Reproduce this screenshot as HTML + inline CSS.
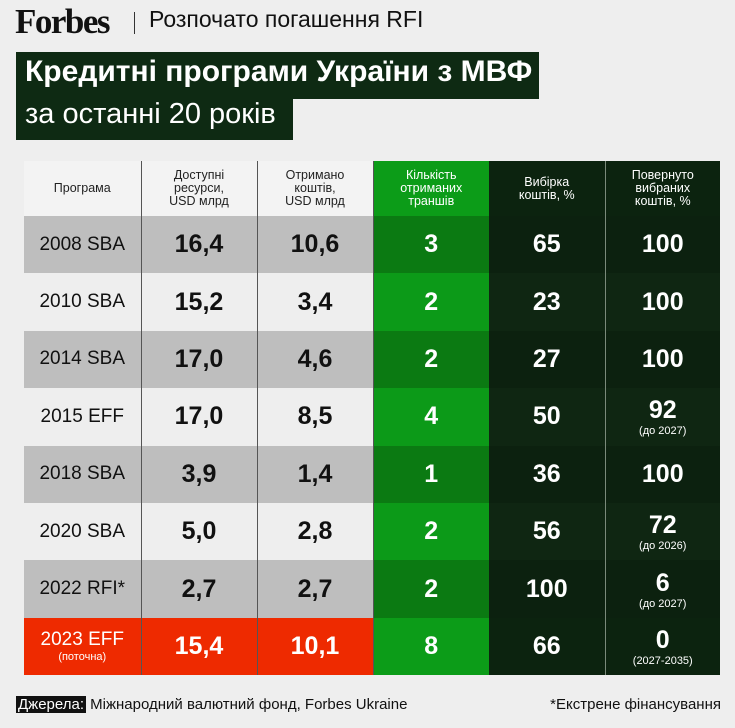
<!DOCTYPE html>
<html><head><meta charset="utf-8"><style>
*{margin:0;padding:0;box-sizing:border-box}
body{width:735px;height:728px;background:#eeeeee;position:relative;overflow:hidden;font-family:"Liberation Sans",sans-serif;}
.a{position:absolute}
.logo{left:15px;top:2px;font-family:"Liberation Serif",serif;font-weight:bold;font-size:35px;letter-spacing:-1.5px;color:#111}
.sub{left:149px;top:6px;font-size:23px;color:#111;white-space:nowrap}
.t1{left:16px;top:52px;width:523px;height:47px;background:#0e2a13;color:#fff;font-size:30px;font-weight:bold;padding:3px 0 0 9px;white-space:nowrap}
.t2{left:16px;top:98px;width:277px;height:42px;background:#0e2a13;color:#fff;font-size:29px;padding:0 0 0 9px;white-space:nowrap}
table{position:absolute;left:24px;top:161px;border-collapse:collapse;table-layout:fixed}
td{text-align:center;vertical-align:middle;padding:0;}
tr.h td{height:55px;font-size:12.5px;line-height:13px;color:#222}
tr.r td{height:57.4px;font-size:25px;font-weight:bold;color:#111}
.c0{width:117px}.c1{width:116px}.c2{width:116px}.c3{width:116px}.c4{width:116px}.c5{width:115px}
td.b{border-right:1px solid #555}
tr.h td.l{background:#f3f3f3}
tr.h td.g{background:#0c9c18;color:#fff}
tr.h td.d{background:#0c230f;color:#fff}
tr.r td.nm{font-size:19px;font-weight:normal}
tr.o td.l{background:#bebebe}
tr.e td.l{background:#eeeeee}
tr.o td.g{background:#0b7a12;color:#fff}
tr.e td.g{background:#0c9a18;color:#fff}
tr.o td.d{background:#0c210f;color:#fff}
tr.e td.d{background:#0f2612;color:#fff}
td.d1{border-right:1px solid #7a8a7a}
tr.red td.l{background:#ee2a00;color:#fff}
tr.red td.g{background:#0c9c18;color:#fff}
tr.red td.d{background:#0c230f;color:#fff}
small{display:block;font-size:11px;font-weight:normal;line-height:12px}
.src{left:16px;top:696px;font-size:15px;color:#111}
.src span{background:#111;color:#fff;padding:0 2px}
.fn{right:14px;top:696px;font-size:15px;color:#111}
</style></head><body>
<div class="a logo">Forbes</div>
<div class="a" style="left:134px;top:12px;width:1px;height:22px;background:#333"></div>
<div class="a sub">Розпочато погашення RFI</div>
<div class="a t1">Кредитні програми України з МВФ</div>
<div class="a t2">за останні 20 років</div>
<table>
<tr class="h"><td class="c0 l b">Програма</td><td class="c1 l b">Доступні<br>ресурси,<br>USD млрд</td><td class="c2 l b">Отримано<br>коштів,<br>USD млрд</td><td class="c3 g">Кількість<br>отриманих<br>траншів</td><td class="c4 d d1">Вибірка<br>коштів, %</td><td class="c5 d">Повернуто<br>вибраних<br>коштів, %</td></tr>
<tr class="r o"><td class="l b nm">2008 SBA</td><td class="l b">16,4</td><td class="l b">10,6</td><td class="g">3</td><td class="d d1">65</td><td class="d">100</td></tr>
<tr class="r e"><td class="l b nm">2010 SBA</td><td class="l b">15,2</td><td class="l b">3,4</td><td class="g">2</td><td class="d d1">23</td><td class="d">100</td></tr>
<tr class="r o"><td class="l b nm">2014 SBA</td><td class="l b">17,0</td><td class="l b">4,6</td><td class="g">2</td><td class="d d1">27</td><td class="d">100</td></tr>
<tr class="r e"><td class="l b nm">2015 EFF</td><td class="l b">17,0</td><td class="l b">8,5</td><td class="g">4</td><td class="d d1">50</td><td class="d">92<small>(до 2027)</small></td></tr>
<tr class="r o"><td class="l b nm">2018 SBA</td><td class="l b">3,9</td><td class="l b">1,4</td><td class="g">1</td><td class="d d1">36</td><td class="d">100</td></tr>
<tr class="r e"><td class="l b nm">2020 SBA</td><td class="l b">5,0</td><td class="l b">2,8</td><td class="g">2</td><td class="d d1">56</td><td class="d">72<small>(до 2026)</small></td></tr>
<tr class="r o"><td class="l b nm">2022 RFI*</td><td class="l b">2,7</td><td class="l b">2,7</td><td class="g">2</td><td class="d d1">100</td><td class="d">6<small>(до 2027)</small></td></tr>
<tr class="r red"><td class="l b nm">2023 EFF<small>(поточна)</small></td><td class="l b">15,4</td><td class="l b">10,1</td><td class="g">8</td><td class="d d1">66</td><td class="d">0<small>(2027-2035)</small></td></tr>
</table>
<div class="a src"><span>Джерела:</span> Міжнародний валютний фонд, Forbes Ukraine</div>
<div class="a fn">*Екстрене фінансування</div>
</body></html>
